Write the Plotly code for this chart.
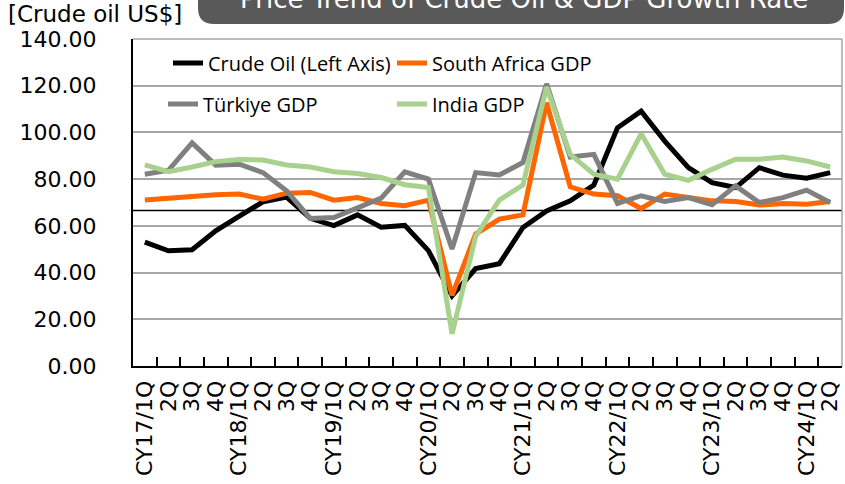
import plotly.graph_objects as go

# ---------------- data ----------------
quarters = ["CY17/1Q", "2Q", "3Q", "4Q",
            "CY18/1Q", "2Q", "3Q", "4Q",
            "CY19/1Q", "2Q", "3Q", "4Q",
            "CY20/1Q", "2Q", "3Q", "4Q",
            "CY21/1Q", "2Q", "3Q", "4Q",
            "CY22/1Q", "2Q", "3Q", "4Q",
            "CY23/1Q", "2Q", "3Q", "4Q",
            "CY24/1Q", "2Q"]

crude_oil = [53.0, 49.3, 49.8, 57.9, 64.2, 70.3, 72.3, 63.2, 60.1, 64.7,
             59.4, 60.2, 49.4, 30.0, 41.7, 43.8, 59.3, 66.4, 70.7, 77.5,
             102.0, 109.1, 96.3, 84.9, 78.5, 76.4, 84.9, 81.7, 80.4, 82.8]

south_africa = [71.1, 72.0, 72.6, 73.3, 73.6, 71.4, 74.0, 74.3, 71.0, 72.1,
                69.6, 68.6, 71.0, 30.2, 56.5, 62.9, 64.7, 112.7, 76.7, 73.6,
                72.9, 67.4, 73.6, 72.1, 70.7, 70.4, 68.9, 69.6, 69.3, 70.4]

turkiye = [82.1, 83.8, 95.5, 86.0, 86.4, 82.8, 75.0, 63.2, 63.6, 67.6,
           71.9, 83.1, 80.0, 50.1, 82.8, 81.8, 87.1, 120.8, 89.5, 90.6,
           69.6, 72.9, 70.4, 72.1, 69.0, 77.1, 70.0, 72.1, 75.3, 70.0]

india = [86.1, 83.2, 85.2, 87.5, 88.4, 88.2, 86.1, 85.2, 83.2, 82.4,
         80.7, 77.6, 76.4, 13.8, 55.5, 71.0, 77.5, 119.4, 90.6, 82.1,
         80.0, 99.4, 82.1, 79.5, 84.2, 88.5, 88.5, 89.5, 87.8, 85.2]

gdp_zero_level = 66.6  # GDP growth zero line (in left-axis units)

series_names = ["Crude Oil (Left Axis)", "South Africa GDP", "Türkiye GDP", "India GDP"]
series_colors = ["#000000", "#FF6600", "#808080", "#A9D18E"]
y_ticks = [0, 20, 40, 60, 80, 100, 120, 140]

title_text = "Price Trend of Crude Oil & GDP Growth Rate"
y_title = "[Crude oil US$]"

# ---------------- layout geometry ----------------
W, H = 845, 484
ML, MR, MT, MB = 133, 3, 39, 118
PW, PH = W - ML - MR, H - MT - MB


def px_x(px):
    return (px - ML) / PW


def px_y(py):
    return (H - MB - py) / PH


x_idx = list(range(len(quarters)))

fig = go.Figure()
legend_ids = ["legend", "legend2", "legend3", "legend4"]
for name, vals, col, lg in zip(series_names,
                               [crude_oil, south_africa, turkiye, india],
                               series_colors, legend_ids):
    fig.add_trace(go.Scatter(x=x_idx, y=vals, mode="lines", name=name,
                             line=dict(color=col, width=5),
                             legend=lg, hoverinfo="skip"))

# invisible trace for the boundary-tick axis
fig.add_trace(go.Scatter(x=[x_idx[0]], y=[0], xaxis="x2", mode="markers",
                         marker=dict(opacity=0), showlegend=False,
                         hoverinfo="skip"))

legend_font = dict(family="Open Sans", size=20, color="#000000")
leg_common = dict(orientation="v", bgcolor="rgba(0,0,0,0)", borderwidth=0,
                  font=legend_font, xanchor="left", yanchor="middle",
                  itemwidth=30)

fig.update_layout(
    width=W, height=H,
    margin=dict(l=ML, r=MR, t=MT, b=MB, pad=0),
    paper_bgcolor="white", plot_bgcolor="white",
    font=dict(family="DejaVu Sans", size=22, color="#000000"),
    legend=dict(x=px_x(168), y=px_y(63), **leg_common),
    legend2=dict(x=px_x(392), y=px_y(63), **leg_common),
    legend3=dict(x=px_x(163), y=px_y(104), **leg_common),
    legend4=dict(x=px_x(392), y=px_y(104), **leg_common),
    xaxis=dict(range=[-0.5, len(quarters) - 0.5], tickmode="array",
               tickvals=x_idx, ticktext=quarters, tickangle=-90,
               ticks="", showgrid=False, zeroline=False,
               showline=True, linecolor="#000000", linewidth=2,
               ticklabelstandoff=4,
               tickfont=dict(family="DejaVu Sans", size=22)),
    xaxis2=dict(overlaying="x", anchor="y", side="bottom",
                range=[-0.5, len(quarters) - 0.5], tickmode="array",
                tickvals=[i + 0.5 for i in x_idx[:-1]],
                ticks="inside", ticklen=9, tickwidth=1.5, tickcolor="#000000",
                showticklabels=False, showgrid=False, zeroline=False,
                showline=False),
    yaxis=dict(range=[0, 140], tickmode="array", tickvals=y_ticks,
               tickformat=".2f", ticks="", showgrid=True,
               gridcolor="#A6A6A6", gridwidth=1.5, zeroline=False,
               showline=True, linecolor="#000000", linewidth=2,
               ticklabelstandoff=30,
               tickfont=dict(family="DejaVu Sans", size=22)),
    showlegend=True,
)

# title banner (rounded box, partly above the page)
bx0, bx1 = px_x(198), px_x(844)
by_top, by_bot = px_y(-10), px_y(24)
rx, ry = 16 / PW, 16 / PH
path = (f"M{bx0},{by_top} L{bx0},{by_bot + ry} Q{bx0},{by_bot} {bx0 + rx},{by_bot} "
        f"L{bx1 - rx},{by_bot} Q{bx1},{by_bot} {bx1},{by_bot + ry} L{bx1},{by_top} Z")
fig.add_shape(type="path", path=path, xref="paper", yref="paper",
              fillcolor="#595959", line=dict(width=0), layer="above")
fig.add_annotation(text=title_text, xref="paper", yref="paper",
                   x=px_x(524), y=px_y(-1), xanchor="center", yanchor="middle",
                   showarrow=False,
                   font=dict(family="DejaVu Sans", size=26, color="white"))

# y-axis title
fig.add_annotation(text=y_title, xref="paper", yref="paper",
                   x=px_x(6), y=px_y(14), xanchor="left", yanchor="middle",
                   showarrow=False,
                   font=dict(family="DejaVu Sans", size=23, color="#000000"))

# plot frame (top / right in gray)
fig.add_shape(type="line", xref="paper", yref="paper", x0=0, x1=1, y0=1, y1=1,
              line=dict(color="#A6A6A6", width=1.5))
fig.add_shape(type="line", xref="paper", yref="paper", x0=1, x1=1, y0=0, y1=1,
              line=dict(color="#A6A6A6", width=1.5))

# legend text background gap on the 120 gridline
fig.add_shape(type="rect", xref="paper", yref="y", x0=px_x(202), x1=px_x(360),
              y0=118.5, y1=121.5, fillcolor="white", line=dict(width=0),
              layer="between")

# GDP zero line
fig.add_shape(type="line", xref="paper", yref="y", x0=0, x1=1,
              y0=gdp_zero_level, y1=gdp_zero_level,
              line=dict(color="#000000", width=1.5), layer="between")

fig.write_html("out.html",
               config={"displayModeBar": False},
               post_script="document.body.style.margin='0';"
                           "document.body.style.padding='0';"
                           "document.body.style.overflow='hidden';")
